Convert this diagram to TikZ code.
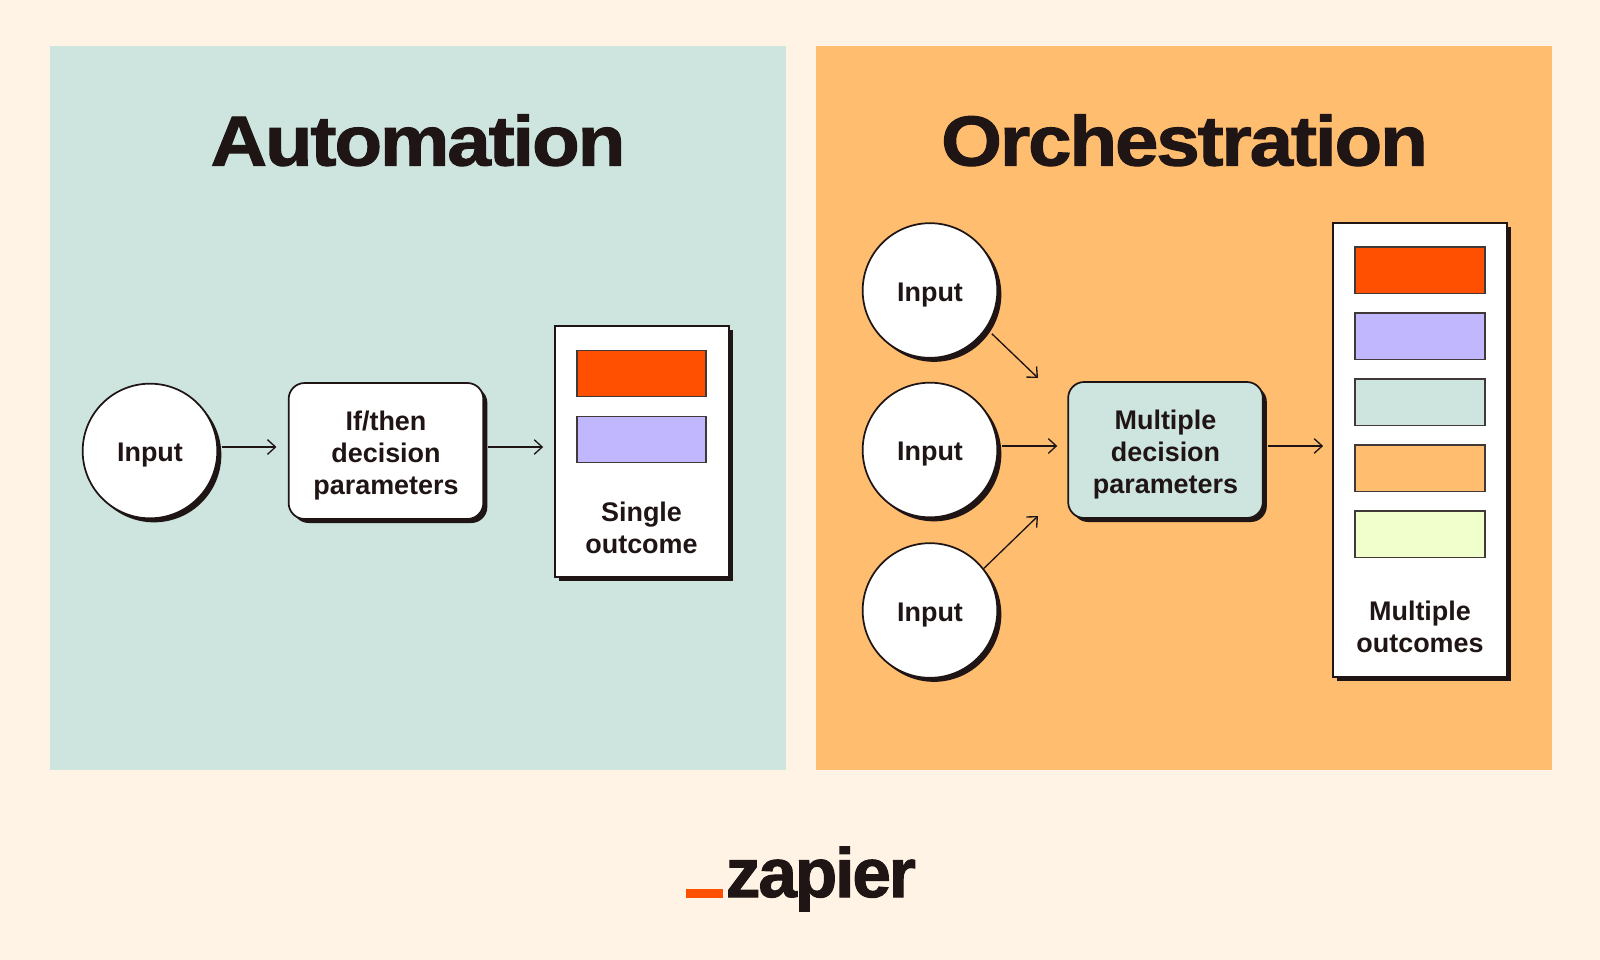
\documentclass[tikz,border=0pt]{standalone}
\usepackage{fontspec}
\setmainfont{Liberation Sans}[BoldFont={Liberation Sans Bold}]
\newfontfamily\titlefont{Liberation Sans Bold}[LetterSpace=-3.0,FakeBold=1.5,FakeStretch=1.105]
\newfontfamily\logofont{Liberation Sans Bold}[LetterSpace=-3.0,FakeBold=1.5]
\usetikzlibrary{arrows.meta,shadows}
\definecolor{bgcream}{HTML}{FFF3E5}
\definecolor{panelteal}{HTML}{CDE4DF}
\definecolor{panelpeach}{HTML}{FFBD6F}
\definecolor{inkdark}{HTML}{201515}
\definecolor{zaporange}{HTML}{FF4F00}
\definecolor{zappurple}{HTML}{C1B7FF}
\definecolor{zaplime}{HTML}{F1FFCC}
\tikzset{
  x=0.75pt,y=-0.75pt,
  hardshadow/.style={general shadow={shadow xshift=3pt,shadow yshift=-3pt,fill=inkdark}},
  panelbox/.style={draw=none,minimum width=552pt,minimum height=543pt,inner sep=0pt,anchor=north west},
  titletext/.style={anchor=base,inner sep=0pt,text=inkdark,font=\titlefont\fontsize{53pt}{60pt}\selectfont},
  labeltext/.style={text=inkdark,align=center,font=\bfseries\fontsize{20.2pt}{24pt}\selectfont,inner sep=0pt},
  midlabel/.style={label={[labeltext,yshift=-3.1pt]center:#1}},
  inputnode/.style={circle,draw=inkdark,line width=1.3pt,fill=white,minimum size=101pt,inner sep=0pt,hardshadow},
  decisionnode/.style={rectangle,rounded corners=12pt,draw=inkdark,line width=1.3pt,minimum width=146pt,minimum height=102pt,inner sep=0pt,hardshadow},
  cardnode/.style={rectangle,draw=inkdark,line width=1.3pt,fill=white,minimum width=130pt,inner sep=0pt,hardshadow},
  swatch/.style={rectangle,draw=inkdark!85!white,line width=1.3pt,minimum width=97.2pt,minimum height=34.6pt,inner sep=0pt},
  flow/.style={draw=inkdark,line width=1pt,-{Straight Barb[length=6pt,width=11pt,line width=1pt]}}
}
\begin{document}
\begin{tikzpicture}
\useasboundingbox (0,0) rectangle (1600,960);
\fill[bgcream] (0,0) rectangle (1600,960);
% panels
\node[panelbox,fill=panelteal] (panelA) at (50,46) {};
\node[panelbox,fill=panelpeach] (panelB) at (816,46) {};
\node[titletext] (titleA) at (418,165.5) {Automation};
\node[titletext] (titleB) at (1184.5,165.5) {Orchestration};
% free ends
\coordinate (upEnd) at (1038,378);
\coordinate (downEnd) at (1038,516);
% left diagram
\node[cardnode,minimum height=188pt] (cardA) at (642,451.5) {};
\node[swatch,fill=zaporange] (a1) at (641.5,373.5) {};
\node[swatch,fill=zappurple] (a2) at (641.5,439.5) {};
\node[labeltext] (cardAtext) at (641.5,527.5) {Single\\outcome};
\node[inputnode,midlabel={Input}] (inA) at (150,451) {};
\node[decisionnode,fill=white,midlabel={If/then\\decision\\parameters}] (boxA) at (386,451) {};
\draw[flow,shorten <=2.5pt,shorten >=8.5pt] ([yshift=3pt]inA.east) -- ([yshift=3pt]boxA.west);
\draw[flow,shorten <=3pt,shorten >=8.5pt] ([yshift=3pt]boxA.east) -- ([yshift=3pt]cardA.west |- boxA.east);
% right diagram
\node[cardnode,minimum height=340.5pt] (cardB) at (1420,449.7) {};
\node[swatch,fill=zaporange] (b1) at (1420,270.3) {};
\node[swatch,fill=zappurple] (b2) at (1420,336.3) {};
\node[swatch,fill=panelteal] (b3) at (1420,402.3) {};
\node[swatch,fill=panelpeach] (b4) at (1420,468.3) {};
\node[swatch,fill=zaplime] (b5) at (1420,534.3) {};
\node[labeltext] (cardBtext) at (1420,627) {Multiple\\outcomes};
\node[inputnode,midlabel={Input}] (in1) at (930,290.5) {};
\node[inputnode,midlabel={Input}] (in2) at (930,450) {};
\node[inputnode,midlabel={Input}] (in3) at (930,610.5) {};
\node[decisionnode,fill=panelteal,midlabel={Multiple\\decision\\parameters}] (boxB) at (1165.5,450) {};
\draw[flow,shorten <=5.5pt] (in1.-34) -- (upEnd);
\draw[flow] (in3.38) -- (downEnd);
\draw[flow,shorten <=3pt,shorten >=7.5pt] ([yshift=3pt]in2.east) -- ([yshift=3pt]boxB.west);
\draw[flow,shorten <=3pt,shorten >=7pt] ([yshift=3pt]boxB.east) -- ([yshift=3pt]cardB.west |- boxB.east);
% logo
\node[rectangle,fill=zaporange,minimum width=27.5pt,minimum height=7pt,inner sep=0pt] (logobar) at (704.5,893.5) {};
\node[anchor=base west,inner sep=0pt,text=inkdark,font=\logofont\fontsize{52pt}{56pt}\selectfont] (logotext) at (725.5,897) {zapier};
\end{tikzpicture}
\end{document}
